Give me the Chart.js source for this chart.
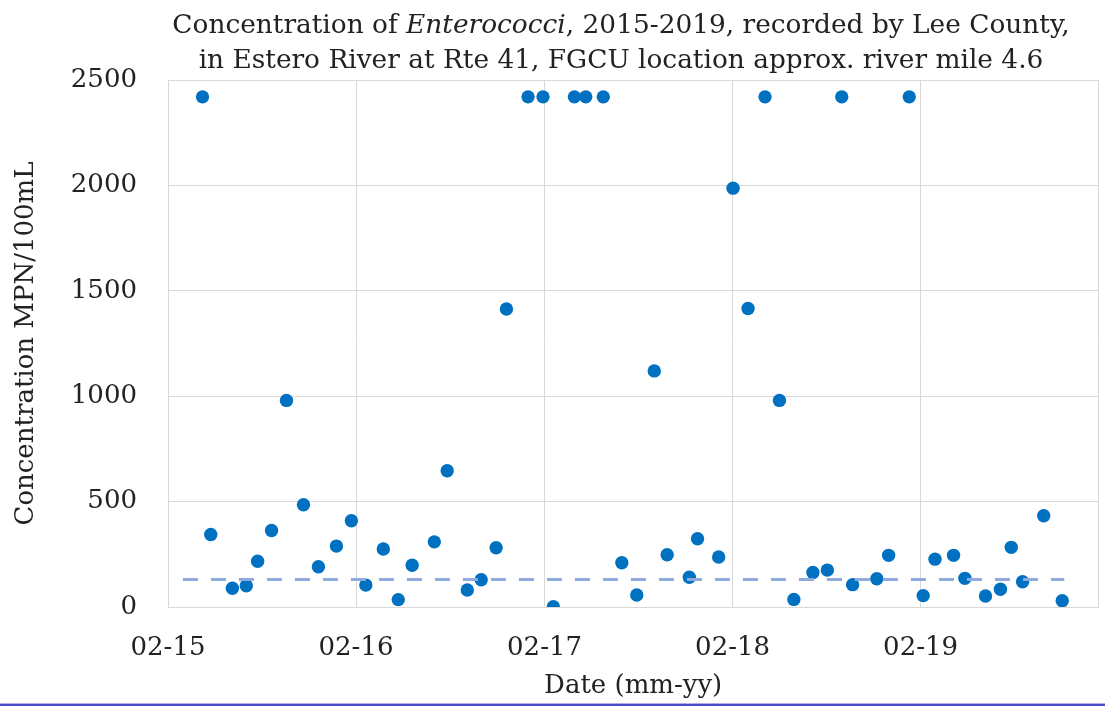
<!DOCTYPE html>
<html>
<head>
<meta charset="utf-8">
<script src="https://cdn.jsdelivr.net/npm/chart.js@4/dist/chart.umd.min.js"></script>
<style>
  html, body { margin: 0; padding: 0; background: #ffffff; }
  #wrap { position: relative; width: 1105px; height: 707px; overflow: hidden; background: #fff; }
  #chart { position: absolute; left: 0; top: 0; }
  #title {
    position: absolute; top: 6px; left: 621px; transform: translateX(-50%);
    white-space: nowrap; text-align: center;
    font-family: "DejaVu Serif", serif; font-size: 26.4px; line-height: 35px; color: #222;
  }
  #bl1 { position: absolute; left: 0; width: 1105px; top: 703px; height: 1px; background: #aeb0e6; }
  #bl2 { position: absolute; left: 0; width: 1105px; top: 704px; height: 2px; background: #4a4cc6; }
</style>
</head>
<body>
<div id="wrap">
  <canvas id="chart" width="1105" height="707"></canvas>
  <div id="title">Concentration of <i>Enterococci</i>, 2015-2019, recorded by Lee County,<br>in Estero River at Rte 41, FGCU location approx. river mile 4.6</div>
  <div id="bl1"></div>
  <div id="bl2"></div>
</div>
<script>
// ---- data ----
const sampleDates = [
  '2015-04-09','2015-04-25','2015-06-06','2015-07-03','2015-07-25','2015-08-21','2015-09-19','2015-10-22',
  '2015-11-20','2015-12-25','2016-01-23','2016-02-20','2016-03-25','2016-04-23','2016-05-20','2016-07-02',
  '2016-07-27','2016-09-04','2016-10-01','2016-10-30','2016-11-19','2016-12-31','2017-01-29','2017-02-18',
  '2017-03-31','2017-04-22','2017-05-26','2017-07-01','2017-07-30','2017-09-02','2017-09-27','2017-11-09',
  '2017-11-25','2018-01-05','2018-02-02','2018-03-03','2018-04-05','2018-05-03','2018-05-31','2018-07-07',
  '2018-08-04','2018-09-01','2018-09-22','2018-11-08','2018-12-01','2019-01-10','2019-02-06','2019-03-01',
  '2019-04-06','2019-04-28','2019-06-07','2019-07-06','2019-07-27','2019-08-18','2019-09-28','2019-11-03'
];
const concentration = [
  2420, 344, 89, 101, 217, 363, 980, 485,
  191, 289, 409, 104, 275, 35, 198, 309,
  646, 81, 129, 281, 1414, 2420, 2420, 1,
  2420, 2420, 2420, 210, 57, 1120, 248, 141,
  324, 237, 1987, 1416, 2420, 980, 36, 164,
  175, 2420, 106, 134, 245, 2420, 54, 227,
  245, 136, 52, 84, 283, 120, 433, 30
];
const thresholdDates = ['2015-03-02', '2019-11-07'];
const thresholdValues = [130, 130];
const tickDates = ['2015-02-01', '2016-02-01', '2017-02-01', '2018-02-01', '2019-02-01'];
const tickLabels = ['02-15', '02-16', '02-17', '02-18', '02-19'];
const axisEndDate = '2020-01-12';
const yTicks = [0, 500, 1000, 1500, 2000, 2500];

// ---- helpers ----
const ORIGIN = Date.parse('2015-02-01T00:00:00Z');
const dayOf = s => (Date.parse(s + 'T00:00:00Z') - ORIGIN) / 86400000;
const tickValues = tickDates.map(dayOf);
const xMax = dayOf(axisEndDate);

const FONT = '"DejaVu Serif", serif';
const GRID = '#d9d9d9';

new Chart(document.getElementById('chart'), {
  type: 'scatter',
  data: {
    datasets: [
      {
        label: 'Threshold',
        data: thresholdDates.map((d, i) => ({ x: dayOf(d), y: thresholdValues[i] })),
        showLine: true,
        borderColor: '#8faadc',
        borderWidth: 3,
        borderDash: [15, 13],
        pointRadius: 0,
        pointHoverRadius: 0,
        order: 0
      },
      {
        label: 'Enterococci',
        data: sampleDates.map((d, i) => ({ x: dayOf(d), y: concentration[i] })),
        backgroundColor: '#0070c0',
        borderColor: '#0070c0',
        borderWidth: 0,
        pointRadius: 6.7,
        pointHoverRadius: 6.7,
        order: 1
      }
    ]
  },
  options: {
    responsive: false,
    animation: false,
    devicePixelRatio: 1,
    layout: { padding: { top: 80, right: 3, left: 0, bottom: 0 } },
    plugins: {
      legend: { display: false },
      tooltip: { enabled: false },
      title: { display: false }
    },
    scales: {
      x: {
        type: 'linear',
        min: 0,
        max: xMax,
        afterBuildTicks: s => {
          s.ticks = tickValues.map(v => ({ value: v })).concat([{ value: xMax }]);
        },
        afterFit: s => { s.height = 100; s.paddingRight = 0; s.paddingLeft = 0; },
        ticks: {
          padding: 26,
          color: '#222',
          font: { family: FONT, size: 26 },
          maxRotation: 0,
          autoSkip: false,
          callback: v => {
            const i = tickValues.indexOf(v);
            return i >= 0 ? tickLabels[i] : '';
          }
        },
        grid: { color: GRID, lineWidth: 1, drawTicks: false },
        border: { color: GRID, width: 1 },
        title: {
          display: true,
          text: 'Date (mm-yy)',
          color: '#222',
          font: { family: FONT, size: 26 },
          padding: { top: 0, bottom: 5 }
        }
      },
      y: {
        min: 0,
        max: 2500,
        afterBuildTicks: s => { s.ticks = yTicks.map(v => ({ value: v })); },
        afterFit: s => { s.width = 168; s.paddingTop = 0; s.paddingBottom = 0; },
        ticks: {
          padding: 31,
          color: '#222',
          font: { family: FONT, size: 26 },
          callback: v => String(v)
        },
        grid: { color: GRID, lineWidth: 1, drawTicks: false },
        border: { color: GRID, width: 1 },
        title: {
          display: true,
          text: 'Concentration MPN/100mL',
          color: '#222',
          font: { family: FONT, size: 26 },
          padding: { top: 11, bottom: 0 }
        }
      }
    }
  }
});
</script>
</body>
</html>
